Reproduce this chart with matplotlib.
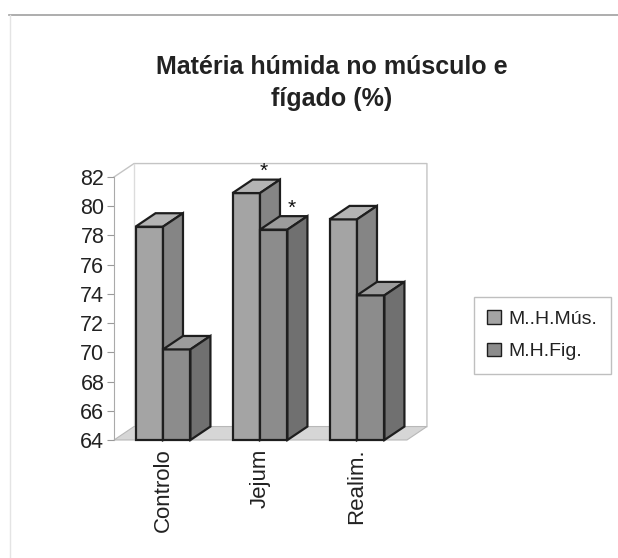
import matplotlib.pyplot as plt
from matplotlib.patches import Polygon, Patch
from matplotlib.lines import Line2D
import numpy as np

plt.rcParams['font.family'] = ['Liberation Sans', 'DejaVu Sans']

categories = ['Controlo', 'Jejum', 'Realim.']
musculo = [78.6, 80.9, 79.1]
figado = [70.2, 78.4, 73.9]
series_names = ['M..H.Mús.', 'M.H.Fig.']
significant_mus = [False, True, False]
significant_fig = [False, True, False]

ymin, ymax = 64, 82
width = 0.283
dx, dy = 0.206, 0.92   # depth offset in data units

# front / top / side shades for each series
shades = {
    'mus': ('#a4a4a4', '#b4b4b4', '#858585'),
    'fig': ('#8c8c8c', '#9c9c9c', '#707070'),
}
edge = '#1e1e1e'

fig = plt.figure(figsize=(6.18, 5.58), dpi=100)
ax = fig.add_axes([0.1845, 0.2115, 0.474, 0.4713])
x = np.arange(len(categories))
xmin, xmax = -0.505, 2.515
ax.set_xlim(xmin, xmax)
ax.set_ylim(ymin, ymax)

# back wall and floor
wall = '#c4c4c4'
ax.plot([xmin, xmin + dx, xmax + dx, xmax + dx], [ymax, ymax + dy, ymax + dy, ymin + dy],
        color=wall, lw=1, clip_on=False, zorder=1)
ax.plot([xmin + dx, xmin + dx], [ymin + dy, ymax + dy], color='#dcdcdc', lw=1,
        clip_on=False, zorder=1)
ax.add_patch(Polygon([(xmin, ymin), (xmax, ymin), (xmax + dx, ymin + dy), (xmin + dx, ymin + dy)],
                     closed=True, facecolor='#d6d6d6', edgecolor='#b8b8b8', lw=0.8,
                     clip_on=False, zorder=1))


def bar3d(xc, value, key, star):
    front, top, side = shades[key]
    x0 = xc - width / 2
    x1 = xc + width / 2
    ax.bar(xc, value - ymin, width, bottom=ymin, color=front, edgecolor=edge, lw=1.6,
           zorder=3, clip_on=False)
    ax.add_patch(Polygon([(x0, value), (x1, value), (x1 + dx, value + dy), (x0 + dx, value + dy)],
                         closed=True, facecolor=top, edgecolor=edge, lw=1.6, zorder=3,
                         clip_on=False))
    ax.add_patch(Polygon([(x1, ymin), (x1 + dx, ymin + dy), (x1 + dx, value + dy), (x1, value)],
                         closed=True, facecolor=side, edgecolor=edge, lw=1.6, zorder=3,
                         clip_on=False))
    if star:
        ax.text(x1 + dx * 0.2, value + dy - 0.1, '*', ha='center', va='bottom',
                fontsize=15, color='#111', clip_on=False, zorder=4)


for i in range(len(categories)):
    bar3d(x[i] - width / 2, musculo[i], 'mus', significant_mus[i])
    bar3d(x[i] + width / 2, figado[i], 'fig', significant_fig[i])

ax.set_yticks(np.arange(ymin, ymax + 1, 2))
ax.tick_params(axis='y', direction='out', length=5, color='#999999', labelsize=15.5,
               labelcolor='#222222', pad=2)
ax.set_xticks(x)
ax.set_xticklabels(categories, rotation=90, fontsize=16, color='#222222')
ax.tick_params(axis='x', length=0, pad=6)
for s in ['top', 'right', 'bottom']:
    ax.spines[s].set_visible(False)
ax.spines['left'].set_color('#aaaaaa')
ax.set_facecolor('none')

fig.text(0.537, 0.852, 'Matéria húmida no músculo e\nfígado (%)', ha='center', va='center',
         fontsize=18, fontweight='bold', color='#222222', linespacing=1.42)

handles = [Patch(facecolor=shades['mus'][0], edgecolor=edge, lw=1),
           Patch(facecolor=shades['fig'][0], edgecolor=edge, lw=1)]
leg = fig.legend(handles, series_names, loc='center left', bbox_to_anchor=(0.751, 0.399),
                 fontsize=14, frameon=True, fancybox=False, edgecolor='#b0b0b0',
                 handlelength=0.7, handleheight=0.7, handletextpad=0.4, labelspacing=0.75,
                 borderpad=0.7, labelcolor='#222222')
leg.get_frame().set_linewidth(1)

# chart area frame
fig.add_artist(Line2D([9 / 618, 1], [1 - 15 / 558, 1 - 15 / 558], color='#a0a0a0', lw=1.2))
fig.add_artist(Line2D([10 / 618, 10 / 618], [1 - 15 / 558, 0], color='#e4e4e4', lw=1))

fig.savefig('out.png', dpi=100, facecolor='white')
